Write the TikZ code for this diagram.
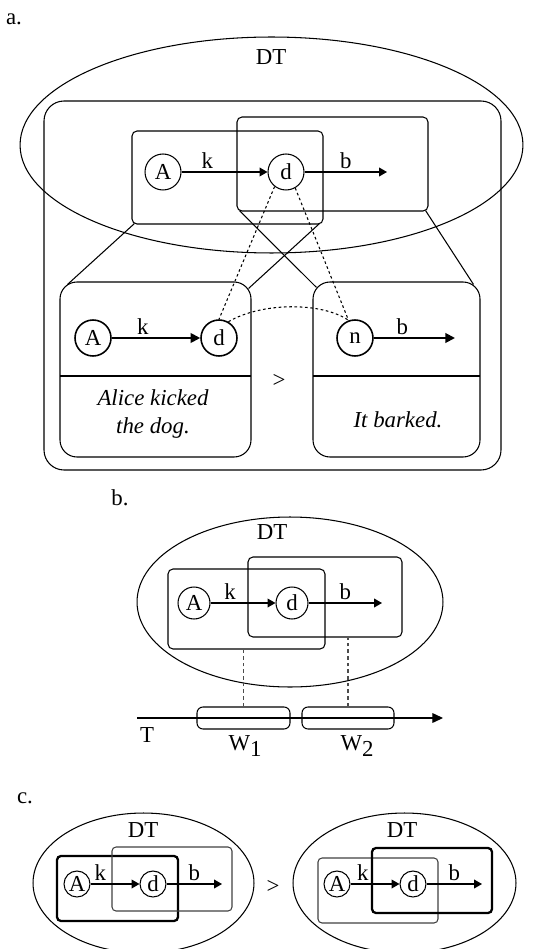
\documentclass[tikz,border=0pt]{standalone}
\usepackage{fontspec}
\setmainfont{Liberation Serif}
\usetikzlibrary{arrows.meta,shapes.geometric,fit,calc}
\begin{document}
\begin{tikzpicture}[x=0.02cm,y=-0.02cm,line width=0.6pt,
  font=\fontsize{13}{16}\selectfont,
  circ/.style={circle,draw,inner sep=0pt,minimum size=0.72cm},
  circb/.style={circle,draw,inner sep=0pt,minimum size=0.64cm},
  circc/.style={circle,draw,inner sep=0pt,minimum size=0.52cm},
  ell/.style={ellipse,draw,inner sep=0pt},
  box/.style={draw,rectangle,inner sep=0pt},
  arr/.style={-{Triangle[length=4.5pt,width=5pt]}},
  arrb/.style={line width=1.1pt,-{Triangle[length=5.5pt,width=5.5pt]}},
  lbl/.style={above,inner sep=1.5pt},
  dots/.style={dash pattern=on 1.5pt off 1.5pt,line width=0.6pt},
  dsh/.style={dash pattern=on 2.2pt off 1.6pt,draw=black!70},
  thin/.style={draw=black!75}]
\useasboundingbox (0,0) rectangle (550,949);

% ---------------- a. ----------------
\node (la) at (14,19) {a.};
\node[ell,minimum width=10.06cm,minimum height=4.32cm] (E1) at (271.5,145) {};
\node (DT1) at (271,57) {DT};
\node[box,rounded corners=0.4cm,fit={(44,101) (501,470)}] (OUT) {};
\node[box,rounded corners=0.1cm,fit={(132,131) (323,224)}] (UL) {};
\node[box,rounded corners=0.1cm,fit={(237,117) (428,211)}] (UR) {};
\node[circ] (A1) at (163,172) {A};
\node[circ] (d1) at (286,172) {d};
\coordinate (e1) at (387,172);
\draw[arr] (A1) -- node[lbl,pos=0.3] {k} (d1);
\draw[arr] (d1) -- node[lbl] {b} (e1);

\node[box,rounded corners=0.34cm,fit={(60,282) (251,457)}] (LL) {};
\node[box,rounded corners=0.34cm,fit={(313,282) (480,457)}] (LR) {};
\draw (60,376) -- (251,376);
\draw (313,376) -- (480,376);
\node[circ,line width=0.9pt] (A2) at (93,338) {A};
\node[circ,line width=0.9pt] (d2) at (219,338) {d};
\node[circ,line width=0.9pt] (n2) at (355,338) {n};
\coordinate (e2) at (455,338);
\draw[arrb] (A2) -- node[lbl,pos=0.35] {k} (d2);
\draw[arrb] (n2) -- node[lbl,pos=0.35] {b} (e2);
\node (gt1) at (279,381) {>};
\node[align=center,font=\fontsize{13}{16}\selectfont\itshape] (t1) at (153,414) {Alice kicked\\the dog.};
\node[font=\fontsize{13}{16}\selectfont\itshape] (t2) at (398,420) {It barked.};

\draw ($(UL.south west)+(3,-1)$) -- ($(LL.north west)+(8,3)$);
\draw ($(UL.south east)+(-4,-1)$) -- ($(LL.north east)+(-3,7)$);
\draw ($(UR.south west)+(3,-1)$) -- ($(LR.north west)+(4,6)$);
\draw ($(UR.south east)+(-3,-1)$) -- ($(LR.north east)+(-7,3)$);

\draw[dots] (d1.232) -- (d2.north);
\draw[dots] (d1.300) -- (n2.110);
\draw[dots] (d2.60) .. controls (262,302) and (322,302) .. (n2.110);

% ---------------- b. ----------------
\node (lb) at (120,498) {b.};
\node[ell,minimum width=6.12cm,minimum height=3.4cm] (E2) at (290,602) {};
\node (DT2) at (272,532) {DT};
\node[box,rounded corners=0.1cm,fit={(168,569) (325,649)}] (LB) {};
\node[box,rounded corners=0.1cm,fit={(248,557) (402,637)}] (RB) {};
\node[circb] (A3) at (194,603) {A};
\node[circb] (d3) at (292,603) {d};
\coordinate (e3) at (382,603);
\draw[arr] (A3) -- node[lbl,pos=0.3] {k} (d3);
\draw[arr] (d3) -- node[lbl] {b} (e3);
\coordinate (T0) at (137,718);
\coordinate (T1) at (443,718);
\draw[-{Triangle[length=6pt,width=5.5pt]}] (T0) -- (T1);
\node (Tl) at (147,735) {T};
\node[box,rounded corners=0.12cm,fit={(197,707) (290,729)}] (W1) {};
\node[box,rounded corners=0.12cm,fit={(302,707) (394,729)}] (W2) {};
\node (W1l) at (245,746) {W\raisebox{-3pt}{1}};
\node (W2l) at (357,746) {W\raisebox{-3pt}{2}};
\draw[dsh] (W1.north) -- (W1.north |- LB.south);
\draw[dsh] (W2.north) -- (W2.north |- RB.south);

% ---------------- c. ----------------
\node (lc) at (25,798) {c.};
\node[ell,minimum width=4.42cm,minimum height=2.8cm] (EL) at (143.5,883) {};
\node[ell,minimum width=4.46cm,minimum height=2.8cm] (ER) at (404.5,883) {};
\node (DT3) at (143,830) {DT};
\node (DT4) at (402,830) {DT};
\node[box,line width=1.3pt,rounded corners=0.08cm,fit={(57,856) (178,921)}] (CL1) {};
\node[box,thin,rounded corners=0.08cm,fit={(112,847) (232,911)}] (CL2) {};
\node[circc] (A4) at (77,884) {A};
\node[circc] (d4) at (153,884) {d};
\coordinate (e4) at (222,884);
\draw[arr] (A4) -- node[lbl,pos=0.2] {k} (d4);
\draw[arr] (d4) -- node[lbl] {b} (e4);
\node (gt2) at (273,887) {>};
\node[box,thin,rounded corners=0.08cm,fit={(318,858) (438,923)}] (CR1) {};
\node[box,line width=1.3pt,rounded corners=0.08cm,fit={(372,848) (492,913)}] (CR2) {};
\node[circc] (A5) at (337,884) {A};
\node[circc] (d5) at (413,884) {d};
\coordinate (e5) at (482,884);
\draw[arr] (A5) -- node[lbl,pos=0.25] {k} (d5);
\draw[arr] (d5) -- node[lbl] {b} (e5);
\end{tikzpicture}
\end{document}
